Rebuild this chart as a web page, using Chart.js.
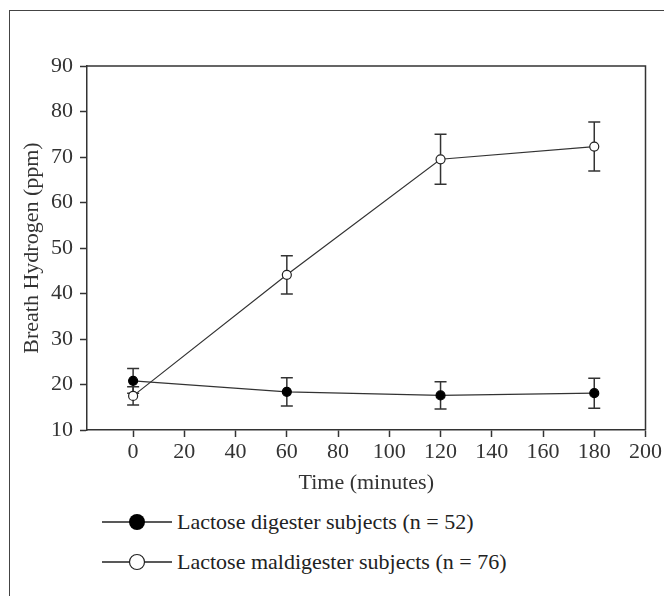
<!DOCTYPE html>
<html>
<head>
<meta charset="utf-8">
<script src="https://cdn.jsdelivr.net/npm/chart.js@4.4.0/dist/chart.umd.min.js"></script>
<style>
  body { margin: 0; background: #fff; }
  #frame { position: absolute; left: 9px; top: 10px; width: 700px; height: 700px;
           border-left: 1.5px solid #444; border-top: 1.5px solid #444; }
  #wrap { position: absolute; left: 0; top: 0; width: 664px; height: 500px; }
  .leg { position: absolute; left: 100px; height: 26px; display: flex; align-items: center;
         font-family: "Liberation Serif", serif; font-size: 22px; color: #222; white-space: nowrap; }
  .leg svg { margin-right: 3px; }
</style>
</head>
<body>
<div id="frame"></div>
<div id="wrap"><canvas id="chart" width="664" height="500"></canvas></div>
<div class="leg" style="top:509px">
  <svg width="74" height="20"><line x1="2" y1="10" x2="72" y2="10" stroke="#222" stroke-width="1.5"/><circle cx="37" cy="10" r="8" fill="#000"/></svg>
  <span>Lactose digester subjects (n = 52)</span>
</div>
<div class="leg" style="top:549px">
  <svg width="74" height="20"><line x1="2" y1="10" x2="72" y2="10" stroke="#222" stroke-width="1.5"/><circle cx="37" cy="10" r="7.5" fill="#fff" stroke="#222" stroke-width="1.2"/></svg>
  <span>Lactose maldigester subjects (n = 76)</span>
</div>
<script>
const times = [0, 60, 120, 180];
const digester = [20.8, 18.4, 17.6, 18.1];
const digesterErr = [2.7, 3.1, 3.0, 3.3];
const maldigester = [17.5, 44.1, 69.5, 72.3];
const maldigesterErr = [2.0, 4.2, 5.5, 5.4];
const xTicks = [0, 20, 40, 60, 80, 100, 120, 140, 160, 180, 200];

const serif = '"Liberation Serif", serif';
const ink = '#333';

// error bars, drawn under the markers
const errorBars = {
  id: 'errorBars',
  beforeDatasetsDraw(chart) {
    const {ctx, scales: {x, y}} = chart;
    ctx.save();
    ctx.strokeStyle = ink;
    ctx.lineWidth = 1.5;
    chart.data.datasets.forEach(ds => {
      ds.data.forEach((p, i) => {
        const px = x.getPixelForValue(p.x);
        const top = y.getPixelForValue(p.y + ds.err[i]);
        const bot = y.getPixelForValue(p.y - ds.err[i]);
        ctx.beginPath();
        ctx.moveTo(px, top); ctx.lineTo(px, bot);
        ctx.moveTo(px - 6, top); ctx.lineTo(px + 6, top);
        ctx.moveTo(px - 6, bot); ctx.lineTo(px + 6, bot);
        ctx.stroke();
      });
    });
    ctx.restore();
  }
};

// closes the plot box on top and right
const plotBox = {
  id: 'plotBox',
  afterDraw(chart) {
    const {ctx, chartArea: a} = chart;
    ctx.save();
    ctx.strokeStyle = ink;
    ctx.lineWidth = 1.5;
    ctx.beginPath();
    ctx.moveTo(a.left, a.top); ctx.lineTo(a.right, a.top); ctx.lineTo(a.right, a.bottom);
    ctx.stroke();
    ctx.restore();
  }
};

new Chart(document.getElementById('chart'), {
  type: 'line',
  data: {
    datasets: [{
      label: 'Lactose digester subjects (n = 52)',
      data: times.map((t, i) => ({x: t, y: digester[i]})),
      err: digesterErr,
      borderColor: ink,
      borderWidth: 1.2,
      pointRadius: 4.5,
      pointBackgroundColor: '#000',
      pointBorderColor: '#000',
      tension: 0
    }, {
      label: 'Lactose maldigester subjects (n = 76)',
      data: times.map((t, i) => ({x: t, y: maldigester[i]})),
      err: maldigesterErr,
      borderColor: ink,
      borderWidth: 1.2,
      pointRadius: 4.5,
      pointBackgroundColor: '#fff',
      pointBorderColor: '#222',
      pointBorderWidth: 1.2,
      tension: 0
    }]
  },
  options: {
    responsive: false,
    animation: false,
    layout: { padding: { left: 19, top: 66, right: 18, bottom: 4 } },
    scales: {
      x: {
        type: 'linear',
        min: -18,
        max: 200,
        afterBuildTicks: s => { s.ticks = xTicks.map(v => ({value: v})); },
        afterFit: s => { s.height = 66; },
        grid: { drawOnChartArea: false, tickLength: 7, color: ink, tickWidth: 1.5 },
        border: { color: ink, width: 1.5 },
        ticks: { font: { family: serif, size: 22 }, color: ink, padding: 2, maxRotation: 0 },
        title: { display: true, text: 'Time (minutes)', font: { family: serif, size: 22 }, color: ink, padding: 0 }
      },
      y: {
        min: 10,
        max: 90,
        afterFit: s => { s.width = 68; },
        grid: { drawOnChartArea: false, tickLength: 7, color: ink, tickWidth: 1.5 },
        border: { color: ink, width: 1.5 },
        ticks: { stepSize: 10, font: { family: serif, size: 22 }, color: ink, padding: 7 },
        title: { display: true, text: 'Breath Hydrogen (ppm)', font: { family: serif, size: 22 }, color: ink, padding: 0 }
      }
    },
    plugins: {
      legend: { display: false },
      tooltip: { enabled: false }
    }
  },
  plugins: [errorBars, plotBox]
});
</script>
</body>
</html>
